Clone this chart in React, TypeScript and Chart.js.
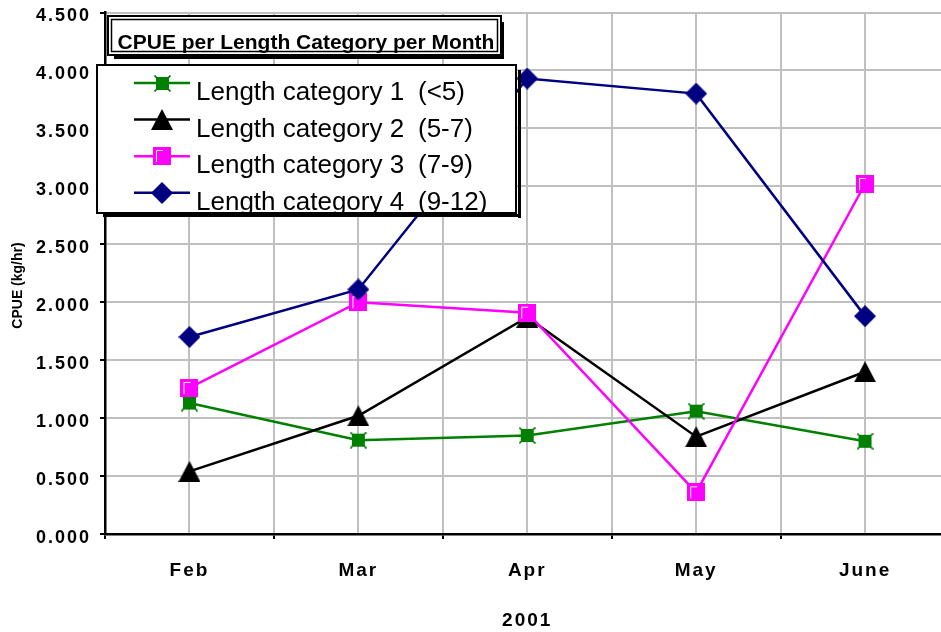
import React, { useEffect, useRef } from 'react';
import { Chart, registerables } from 'chart.js';

Chart.register(...registerables);

const FONT = "'Liberation Sans', Arial, Helvetica, sans-serif";

// Months sampled in 2001
const months = ['Feb', 'Mar', 'Apr', 'May', 'June'];

// CPUE (kg/hr) per length category
const seriesNames = [
  'Length category 1 (<5)',
  'Length category 2 (5-7)',
  'Length category 3 (7-9)',
  'Length category 4 (9-12)',
];
const category1 = [1.13, 0.81, 0.85, 1.06, 0.8];
const category2 = [0.54, 1.02, 1.87, 0.84, 1.4];
const category3 = [1.26, 2.0, 1.91, 0.36, 3.02];
const category4 = [1.7, 2.11, 3.93, 3.8, 1.88];
const seriesColors = ['#008000', '#000000', '#FF00FF', '#000080'];

const chartTitle = 'CPUE per Length Category per Month';
const yAxisTitle = 'CPUE (kg/hr)';
const xAxisTitle = '2001';

const CANVAS_W = 962;
const CANVAS_H = 632;

function markerCanvas(w: number, h: number, paint: (c: CanvasRenderingContext2D) => void) {
  const cv = document.createElement('canvas');
  cv.width = w;
  cv.height = h;
  const c = cv.getContext('2d') as CanvasRenderingContext2D;
  paint(c);
  return cv;
}

function makeMarkers() {
  const green = markerCanvas(17, 17, (c) => {
    c.fillStyle = '#008000';
    c.fillRect(2, 2, 13, 13);
    c.strokeStyle = '#008000';
    c.lineWidth = 1.6;
    c.beginPath();
    c.moveTo(0.5, 0.5);
    c.lineTo(16.5, 16.5);
    c.moveTo(16.5, 0.5);
    c.lineTo(0.5, 16.5);
    c.stroke();
  });
  const triangle = markerCanvas(22, 21, (c) => {
    c.fillStyle = '#000000';
    c.beginPath();
    c.moveTo(11, 0);
    c.lineTo(22, 21);
    c.lineTo(0, 21);
    c.closePath();
    c.fill();
  });
  const square = markerCanvas(18, 18, (c) => {
    c.fillStyle = '#FF00FF';
    c.fillRect(0, 0, 18, 18);
    c.strokeStyle = '#FFFFFF';
    c.lineWidth = 1;
    c.beginPath();
    c.moveTo(3.5, 15);
    c.lineTo(3.5, 3.5);
    c.lineTo(10, 3.5);
    c.stroke();
  });
  const diamond = markerCanvas(22, 22, (c) => {
    c.fillStyle = '#000080';
    c.beginPath();
    c.moveTo(11, 0);
    c.lineTo(22, 11);
    c.lineTo(11, 22);
    c.lineTo(0, 11);
    c.closePath();
    c.fill();
  });
  return [green, triangle, square, diamond];
}

// Axis text is drawn slightly letter-spaced
const spacingPlugin = {
  id: 'axisLetterSpacing',
  beforeDraw(chart: any) {
    (chart.ctx as any).letterSpacing = '2px';
  },
  beforeDatasetsDraw(chart: any) {
    (chart.ctx as any).letterSpacing = '0px';
  },
};

// Boxed title, boxed legend and rotated y-axis caption drawn over the plot
function makeOverlayPlugin(markers: HTMLCanvasElement[]) {
  return {
    id: 'cpueOverlays',
    afterDraw(chart: any) {
      const ctx: CanvasRenderingContext2D = chart.ctx;
      (ctx as any).letterSpacing = '0px';

      // y-axis caption
      ctx.save();
      ctx.translate(18, 285.5);
      ctx.rotate(-Math.PI / 2);
      ctx.font = `bold 14px ${FONT}`;
      ctx.fillStyle = '#000';
      ctx.textAlign = 'center';
      ctx.textBaseline = 'middle';
      ctx.fillText(yAxisTitle, 0, 0);
      ctx.restore();

      // title box with double frame and shadow
      ctx.save();
      ctx.fillStyle = '#000';
      ctx.fillRect(501, 22, 3, 37);
      ctx.fillRect(114, 56, 390, 3);
      ctx.fillStyle = '#fff';
      ctx.fillRect(108, 16, 393, 39);
      ctx.strokeStyle = '#000';
      ctx.lineWidth = 2;
      ctx.strokeRect(108, 16, 393, 39);
      ctx.lineWidth = 1.5;
      ctx.strokeRect(111.5, 19.5, 386, 32);
      ctx.font = `bold 21px ${FONT}`;
      ctx.fillStyle = '#000';
      ctx.textAlign = 'center';
      ctx.textBaseline = 'alphabetic';
      ctx.fillText(chartTitle, 306, 49);
      ctx.restore();

      // legend box with shadow
      const L = 97, T = 65, R = 516, B = 213;
      ctx.save();
      ctx.fillStyle = '#000';
      ctx.fillRect(R + 2, T + 5, 3, B - T);
      ctx.fillRect(L + 6, B + 1, R - L - 1, 3);
      ctx.fillStyle = '#fff';
      ctx.fillRect(L, T, R - L, B - T);
      ctx.strokeStyle = '#000';
      ctx.lineWidth = 2;
      ctx.strokeRect(L, T, R - L, B - T);
      ctx.beginPath();
      ctx.rect(L + 1, T + 1, R - L - 2, B - T - 2);
      ctx.clip();
      chart.data.datasets.forEach((ds: any, i: number) => {
        const lineY = 83 + i * 36.6;
        ctx.strokeStyle = ds.borderColor;
        ctx.lineWidth = 2.5;
        ctx.beginPath();
        ctx.moveTo(134, lineY);
        ctx.lineTo(190, lineY);
        ctx.stroke();
        const m = markers[i];
        ctx.drawImage(m, Math.round(162 - m.width / 2), Math.round(lineY - m.height / 2));
        const label: string = ds.label;
        const cut = label.lastIndexOf(' (');
        ctx.font = `26px ${FONT}`;
        ctx.fillStyle = '#000';
        ctx.textAlign = 'left';
        ctx.textBaseline = 'alphabetic';
        ctx.fillText(label.slice(0, cut), 196, lineY + 17);
        ctx.fillText(label.slice(cut + 1), 418, lineY + 17);
      });
      ctx.restore();
    },
  };
}

export default function App() {
  const canvasRef = useRef<HTMLCanvasElement | null>(null);

  useEffect(() => {
    const canvas = canvasRef.current;
    if (!canvas) return;
    const markers = makeMarkers();
    const series = [category1, category2, category3, category4];

    const chart = new Chart(canvas, {
      type: 'line',
      data: {
        datasets: series.map((vals, i) => ({
          label: seriesNames[i],
          data: vals.map((y, x) => ({ x, y })),
          borderColor: seriesColors[i],
          backgroundColor: seriesColors[i],
          borderWidth: 2.5,
          pointStyle: markers[i] as any,
          pointRadius: 10,
          pointHoverRadius: 10,
          tension: 0,
          order: 4 - i,
        })),
      },
      options: {
        responsive: false,
        animation: false,
        devicePixelRatio: 1,
        layout: { padding: { left: 0, right: 1, top: 12, bottom: 0 } },
        plugins: {
          legend: { display: false },
          title: { display: false },
          tooltip: { enabled: false },
        },
        scales: {
          x: {
            type: 'linear',
            min: -0.5,
            max: 4.5,
            afterBuildTicks: (scale: any) => {
              const ticks = [];
              for (let v = -0.5; v <= 4.5 + 1e-9; v += 0.5) ticks.push({ value: v });
              scale.ticks = ticks;
            },
            afterFit: (scale: any) => {
              scale.height = 98;
              scale.paddingLeft = 0;
              scale.paddingRight = 0;
              scale.paddingTop = 0;
              scale.paddingBottom = 0;
            },
            grid: {
              color: (c: any) => (c.tick && c.tick.value === -0.5 ? 'rgba(0,0,0,0)' : '#c0c0c0'),
              lineWidth: 2,
              drawTicks: true,
              tickLength: 5,
              tickWidth: 2,
              tickColor: (c: any) =>
                c.tick && Number.isInteger(c.tick.value) ? 'rgba(0,0,0,0)' : '#000',
            },
            border: { color: '#000', width: 2.5 },
            ticks: {
              callback: (v: any) => (Number.isInteger(v) ? months[v] : ''),
              font: { family: FONT, size: 19, weight: 'bold' },
              color: '#000',
              padding: 20,
              maxRotation: 0,
              autoSkip: false,
            },
            title: {
              display: true,
              text: xAxisTitle,
              font: { family: FONT, size: 19, weight: 'bold' },
              color: '#000',
              padding: { top: 0, bottom: 0 },
            },
          },
          y: {
            min: 0,
            max: 4.5,
            afterFit: (scale: any) => {
              scale.width = 105;
              scale.paddingLeft = 0;
              scale.paddingRight = 0;
              scale.paddingTop = 0;
              scale.paddingBottom = 0;
            },
            grid: {
              color: (c: any) => (c.tick && c.tick.value === 0 ? 'rgba(0,0,0,0)' : '#c0c0c0'),
              lineWidth: 2,
              drawTicks: true,
              tickLength: 5,
              tickWidth: 2,
              tickColor: '#000',
            },
            border: { color: '#000', width: 2.5 },
            ticks: {
              stepSize: 0.5,
              callback: (v: any) => Number(v).toFixed(3),
              font: { family: FONT, size: 18, weight: 'bold' },
              color: '#000',
              padding: 9,
              labelOffset: 4,
            },
          },
        },
      } as any,
      plugins: [spacingPlugin, makeOverlayPlugin(markers)],
    });

    return () => chart.destroy();
  }, []);

  return (
    <div
      style={{
        position: 'absolute',
        left: 0,
        top: 0,
        width: 941,
        height: 632,
        overflow: 'hidden',
        background: '#fff',
      }}
    >
      <canvas
        ref={canvasRef}
        width={CANVAS_W}
        height={CANVAS_H}
        style={{ display: 'block', width: CANVAS_W, height: CANVAS_H }}
      />
    </div>
  );
}
